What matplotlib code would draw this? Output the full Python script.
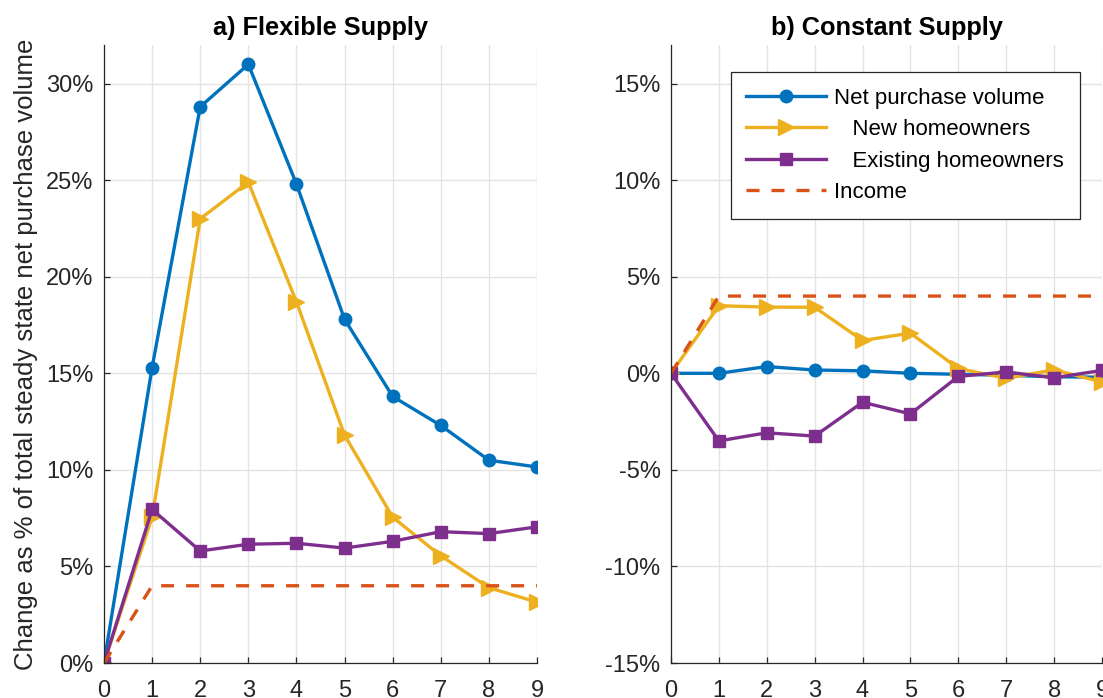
import numpy as np
import matplotlib
matplotlib.use("Agg")
import matplotlib.pyplot as plt
from matplotlib.ticker import FuncFormatter

plt.rcParams['font.family'] = ['Liberation Sans', 'DejaVu Sans']

periods = np.arange(10)

# a) flexible supply, change in % of steady state net purchase volume
flex_net = [0, 15.3, 28.8, 31.0, 24.8, 17.8, 13.8, 12.3, 10.5, 10.15]
flex_new = [0, 7.55, 23.0, 24.9, 18.7, 11.8, 7.55, 5.55, 3.9, 3.15]
flex_existing = [0, 7.95, 5.8, 6.15, 6.2, 5.95, 6.3, 6.8, 6.7, 7.05]
flex_income = [0, 4, 4, 4, 4, 4, 4, 4, 4, 4]

# b) constant supply
const_net = [0, 0, 0.35, 0.17, 0.13, 0.0, -0.05, -0.1, -0.18, -0.2]
const_new = [0, 3.5, 3.43, 3.42, 1.7, 2.08, 0.25, -0.26, 0.18, -0.45]
const_existing = [0, -3.5, -3.08, -3.25, -1.5, -2.1, -0.16, 0.07, -0.23, 0.15]
const_income = [0, 4, 4, 4, 4, 4, 4, 4, 4, 4]

legend_labels = ['Net purchase volume', '   New homeowners',
                 '   Existing homeowners', 'Income']

c_blue = '#0072BD'
c_yellow = '#EDB120'
c_purple = '#7E2F8E'
c_orange = '#D95319'
c_axis = '#262626'

lw = 2.4


def draw_panel(ax, net, new, existing, income, ylim, yticks, title):
    ax.plot(periods, net, color=c_blue, lw=lw, marker='o', ms=9,
            label=legend_labels[0])
    ax.plot(periods, new, color=c_yellow, lw=lw, marker='>', ms=11.5,
            label=legend_labels[1])
    ax.plot(periods, existing, color=c_purple, lw=lw, marker='s', ms=8,
            label=legend_labels[2])
    ax.plot(periods, income, color=c_orange, lw=lw, ls=(0, (3.9, 3.6)),
            label=legend_labels[3])

    ax.set_xlim(0, 9)
    ax.set_ylim(*ylim)
    ax.set_xticks(periods)
    ax.set_yticks(yticks)
    ax.yaxis.set_major_formatter(FuncFormatter(lambda v, p: f'{v:.0f}%'))
    ax.grid(True, color='#E3E3E3', lw=1.0)
    ax.set_axisbelow(True)
    for side in ['top', 'right']:
        ax.spines[side].set_visible(False)
    for side in ['left', 'bottom']:
        ax.spines[side].set_color(c_axis)
        ax.spines[side].set_linewidth(0.9)
    ax.tick_params(direction='in', length=4.5, width=0.9, colors=c_axis,
                   labelsize=17)
    ax.tick_params(axis='x', pad=12)
    ax.tick_params(axis='y', pad=7.5)
    ax.set_title(title, fontsize=18.3, fontweight='bold', pad=7)


fig = plt.figure(figsize=(11.03, 6.98), dpi=100)
ax1 = fig.add_axes([104 / 1103, 35 / 698, 433 / 1103, 618 / 698])
ax2 = fig.add_axes([671 / 1103, 35 / 698, 431 / 1103, 618 / 698])

draw_panel(ax1, flex_net, flex_new, flex_existing, flex_income,
           (0, 32), np.arange(0, 31, 5), 'a) Flexible Supply')
draw_panel(ax2, const_net, const_new, const_existing, const_income,
           (-15, 17), np.arange(-15, 16, 5), 'b) Constant Supply')

ax1.set_ylabel('Change as % of total steady state net purchase volume',
               fontsize=18.5, color=c_axis)
ax1.yaxis.set_label_coords(-0.152, 0.5)

leg = ax2.legend(loc='upper left', bbox_to_anchor=(0.139, 0.956),
                 borderaxespad=0, fontsize=16, handlelength=3.6,
                 handletextpad=0.35, labelspacing=0.47, borderpad=0.7,
                 fancybox=False, framealpha=1, edgecolor=c_axis)
leg.get_frame().set_linewidth(0.9)

fig.savefig('out.png', dpi=100)
